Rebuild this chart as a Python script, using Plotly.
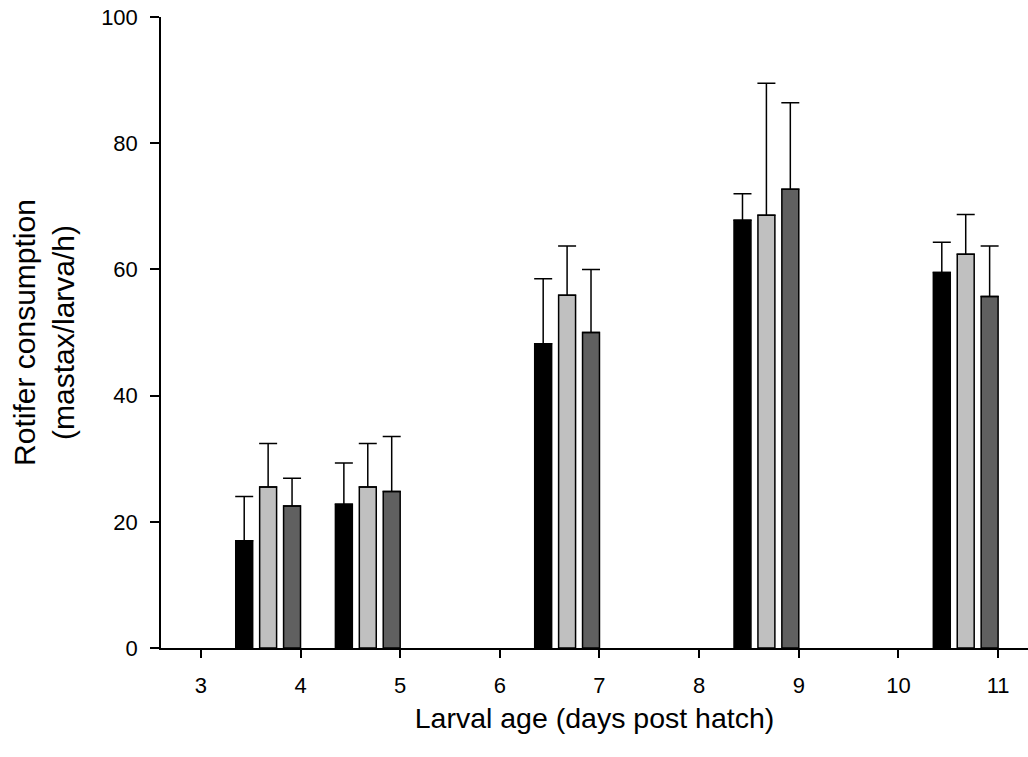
import plotly.graph_objects as go

days = [4, 5, 7, 9, 11]
series_names = ["Group 1", "Group 2", "Group 3"]
values_1 = [17.0, 22.8, 48.2, 67.8, 59.5]
errors_1 = [7.0, 6.5, 10.3, 4.2, 4.8]
values_2 = [25.5, 25.5, 55.9, 68.6, 62.4]
errors_2 = [6.9, 6.9, 7.8, 20.9, 6.3]
values_3 = [22.5, 24.8, 50.0, 72.7, 55.7]
errors_3 = [4.4, 8.7, 10.0, 13.7, 8.0]

fill_colors = ["#000000", "#c0c0c0", "#606060"]
offsets = [-0.65, -0.41, -0.17]
bar_width = 0.17

fig = go.Figure()
for name, vals, errs, col, off in zip(series_names,
                                      [values_1, values_2, values_3],
                                      [errors_1, errors_2, errors_3],
                                      fill_colors, offsets):
    fig.add_trace(go.Bar(
        x=days, y=vals, name=name, offset=off, width=bar_width,
        marker=dict(color=col, line=dict(color="#000000", width=1.5)),
        error_y=dict(type="data", array=errs, arrayminus=[0] * len(errs),
                     symmetric=False, color="#000000", thickness=1.5, width=9),
        showlegend=False,
    ))

font_family = "Arial, Liberation Sans, sans-serif"
fig.update_layout(
    width=1028, height=757,
    margin=dict(l=161, r=0, t=17, b=109, pad=0),
    paper_bgcolor="white", plot_bgcolor="white",
    barmode="overlay",
    font=dict(family=font_family, color="#000000", size=22),
    xaxis=dict(
        range=[2.6, 11.3], tickmode="array", tickvals=[3, 4, 5, 6, 7, 8, 9, 10, 11],
        ticks="outside", ticklen=8, tickwidth=1.5, tickcolor="#000000",
        showline=True, linecolor="#000000", linewidth=1.5,
        showgrid=False, zeroline=False,
        tickfont=dict(size=22), ticklabelstandoff=9,
        title=dict(text="Larval age (days post hatch)", font=dict(size=28.5), standoff=11),
    ),
    yaxis=dict(
        range=[0, 100], tickmode="array", tickvals=[0, 20, 40, 60, 80, 100],
        ticks="outside", ticklen=9, tickwidth=1.5, tickcolor="#000000",
        showline=True, linecolor="#000000", linewidth=1.5,
        showgrid=False, zeroline=False,
        tickfont=dict(size=22), ticklabelstandoff=8,
        title=dict(text="Rotifer consumption<br>(mastax/larva/h)", font=dict(size=30), standoff=18),
    ),
)

fig.write_html("out.html")
